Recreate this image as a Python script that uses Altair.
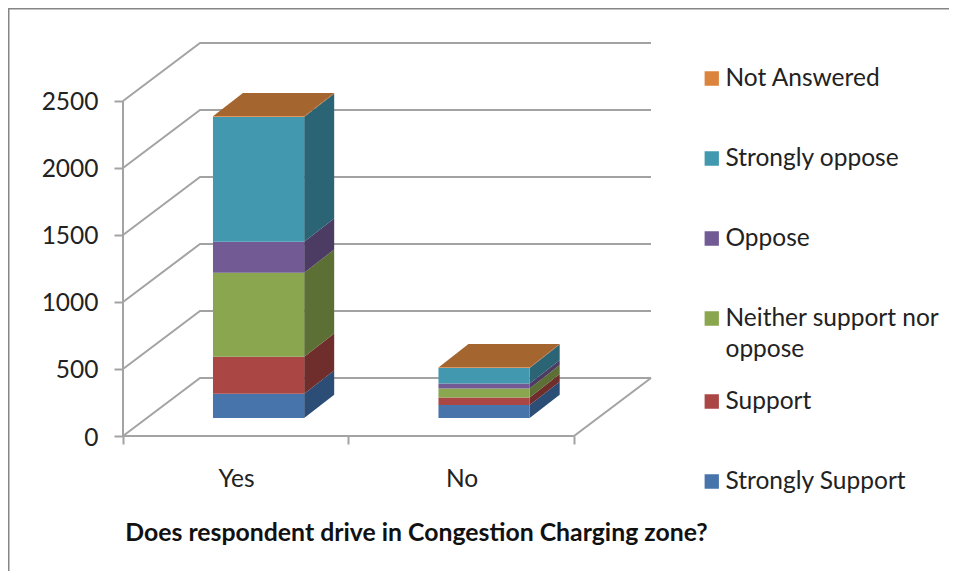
import altair as alt
import pandas as pd

categories = ["Yes", "No"]
series = ["Strongly Support", "Support", "Neither support nor oppose", "Oppose", "Strongly oppose", "Not Answered"]
yes_values = [181, 276, 627, 231, 931, 6]
no_values = [97, 57, 67, 37, 116, 4]
front_colors = ["#4674AB", "#AA4644", "#8AA64F", "#725A94", "#4198AF", "#DB843D"]
side_colors = ["#2C4D75", "#6F2E2C", "#5C6F35", "#4C3B62", "#2A6475", "#8F5528"]
top_colors = ["#4674AB", "#AA4644", "#8AA64F", "#725A94", "#4198AF", "#A4652E"]
ticks = [0, 500, 1000, 1500, 2000, 2500]

WALL_DX, WALL_DY = 0.3415, 433
BAR_DX, BAR_DY = 0.133, 174
BAR_LEFT, BAR_W, LIFT = 0.399, 0.4045, 134
XMAX = len(categories) + WALL_DX
YMAX = 2932.8
GREY = "#A3A3A3"
FONT = "Lato"
FS = 24.5

fronts, sides, tops = [], [], []
for i, (cat, vals) in enumerate(zip(categories, [yes_values, no_values])):
    left = i + BAR_LEFT
    right = left + BAR_W
    lo = LIFT
    for s, v, sc in zip(series, vals, side_colors):
        hi = lo + v
        fronts.append(dict(cat=cat, series=s, x=left, x2=right, y=lo, y2=hi))
        sides.append(dict(key=cat + s, x=right, y=lo, y2=hi, c=sc))
        sides.append(dict(key=cat + s, x=right + BAR_DX, y=lo + BAR_DY, y2=hi + BAR_DY, c=sc))
        lo = hi
    tops.append(dict(key=cat, y=lo, x=left, x2=right, c=top_colors[-1]))
    tops.append(dict(key=cat, y=lo + BAR_DY, x=left + BAR_DX, x2=right + BAR_DX, c=top_colors[-1]))

grid = []
for t in ticks:
    grid += [dict(t=t, o=0, x=0, y=t), dict(t=t, o=1, x=WALL_DX, y=t + WALL_DY), dict(t=t, o=2, x=XMAX, y=t + WALL_DY)]
floor = [dict(o=0, x=0, y=0), dict(o=1, x=len(categories), y=0), dict(o=2, x=XMAX, y=WALL_DY)]
yaxis_line = [dict(x=0, y=0, y2=ticks[-1])]

xs = alt.Scale(domain=[0, XMAX], nice=False, zero=False)
ys = alt.Scale(domain=[0, YMAX], nice=False, zero=False)
x_axis = alt.Axis(values=[0, 1, 2], grid=False, domain=False, tickSize=8, tickWidth=2, tickColor=GREY,
                  labelExpr="datum.value == 0 ? 'Yes' : datum.value == 1 ? 'No' : ''",
                  labelOffset=113, labelPadding=23, labelFontSize=FS, labelFont=FONT, labelColor="#222222",
                  labelAngle=0, labelOverlap=False, labelFlush=False, labelBound=False,
                  titleFont=FONT, titleFontSize=24.8, titleFontWeight="bold", titleColor="#111111",
                  titleX=293, titleY=97, titleAlign="center", titleBaseline="middle")
y_axis = alt.Axis(values=ticks, grid=False, domain=False, tickSize=9, tickWidth=2, tickColor=GREY,
                  labelPadding=16, labelOffset=2, labelFontSize=FS, labelFont=FONT, labelColor="#222222",
                  labelOverlap=False, labelBound=False, labelFlush=False, format="d")
X_TITLE = "Does respondent drive in Congestion Charging zone?"
def X(f="x:Q", **k):
    return alt.X(f, scale=xs, axis=x_axis, title=X_TITLE, **k)
def Y(f="y:Q", **k):
    return alt.Y(f, scale=ys, axis=y_axis, title=None, **k)

base_axes = alt.Chart(pd.DataFrame(floor)).mark_line(color=GREY, strokeWidth=2).encode(x=X(), y=Y(), order="o:O")

grid_layer = alt.Chart(pd.DataFrame(grid)).mark_line(color=GREY, strokeWidth=2).encode(
    x=X(), y=Y(), detail="t:N", order="o:O")

axis_rule = alt.Chart(pd.DataFrame(yaxis_line)).mark_rule(color=GREY, strokeWidth=2).encode(
    x=X(), y=Y(), y2="y2:Q")

side_layer = alt.Chart(pd.DataFrame(sides)).mark_area(orient="vertical").encode(
    x=X(), y=Y(stack=None), y2="y2:Q", detail="key:N", fill=alt.Fill("c:N", scale=None))

top_layer = alt.Chart(pd.DataFrame(tops)).mark_area(orient="horizontal").encode(
    y=Y(), x=X(stack=None), x2="x2:Q", detail="key:N", fill=alt.Fill("c:N", scale=None))

front_layer = alt.Chart(pd.DataFrame(fronts)).mark_rect().encode(
    x=X(), x2="x2:Q", y=Y(), y2="y2:Q",
    color=alt.Color("series:N", scale=alt.Scale(domain=series[::-1], range=front_colors[::-1]),
                    legend=alt.Legend(title=None, orient="none", legendX=576.5, legendY=-4.5, padding=0,
                                      symbolType="square", symbolSize=204, symbolStrokeWidth=0, symbolOpacity=1,
                                      labelFont=FONT, labelFontSize=FS, labelColor="#222222", labelLimit=400,
                                      labelOffset=1.5, clipHeight=80, rowPadding=0,
                                      labelExpr="datum.label == 'Neither support nor oppose' ? ['Neither support nor', 'oppose'] : datum.label")),
)

frame_left = alt.Chart(pd.DataFrame({"a": [0]})).mark_rule(color="#868686", strokeWidth=2).encode(
    x=alt.value(-114.5), y=alt.value(-35), y2=alt.value(528))
frame_top = alt.Chart(pd.DataFrame({"a": [0]})).mark_rule(color="#868686", strokeWidth=2).encode(
    y=alt.value(-34.5), x=alt.value(-115), x2=alt.value(826))

chart = alt.layer(frame_left, frame_top, base_axes, grid_layer, axis_rule, side_layer, top_layer, front_layer).properties(
    width=528, height=393,
    padding={"left": 115, "top": 35, "right": 298, "bottom": 135},
    autosize=alt.AutoSizeParams(type="none"),
    background="white",
    config=alt.Config(view=alt.ViewConfig(stroke=None), style={"guide-label": {"lineHeight": 31}}),
)

chart.save("out.html", embed_options={"renderer": "svg", "actions": False})
